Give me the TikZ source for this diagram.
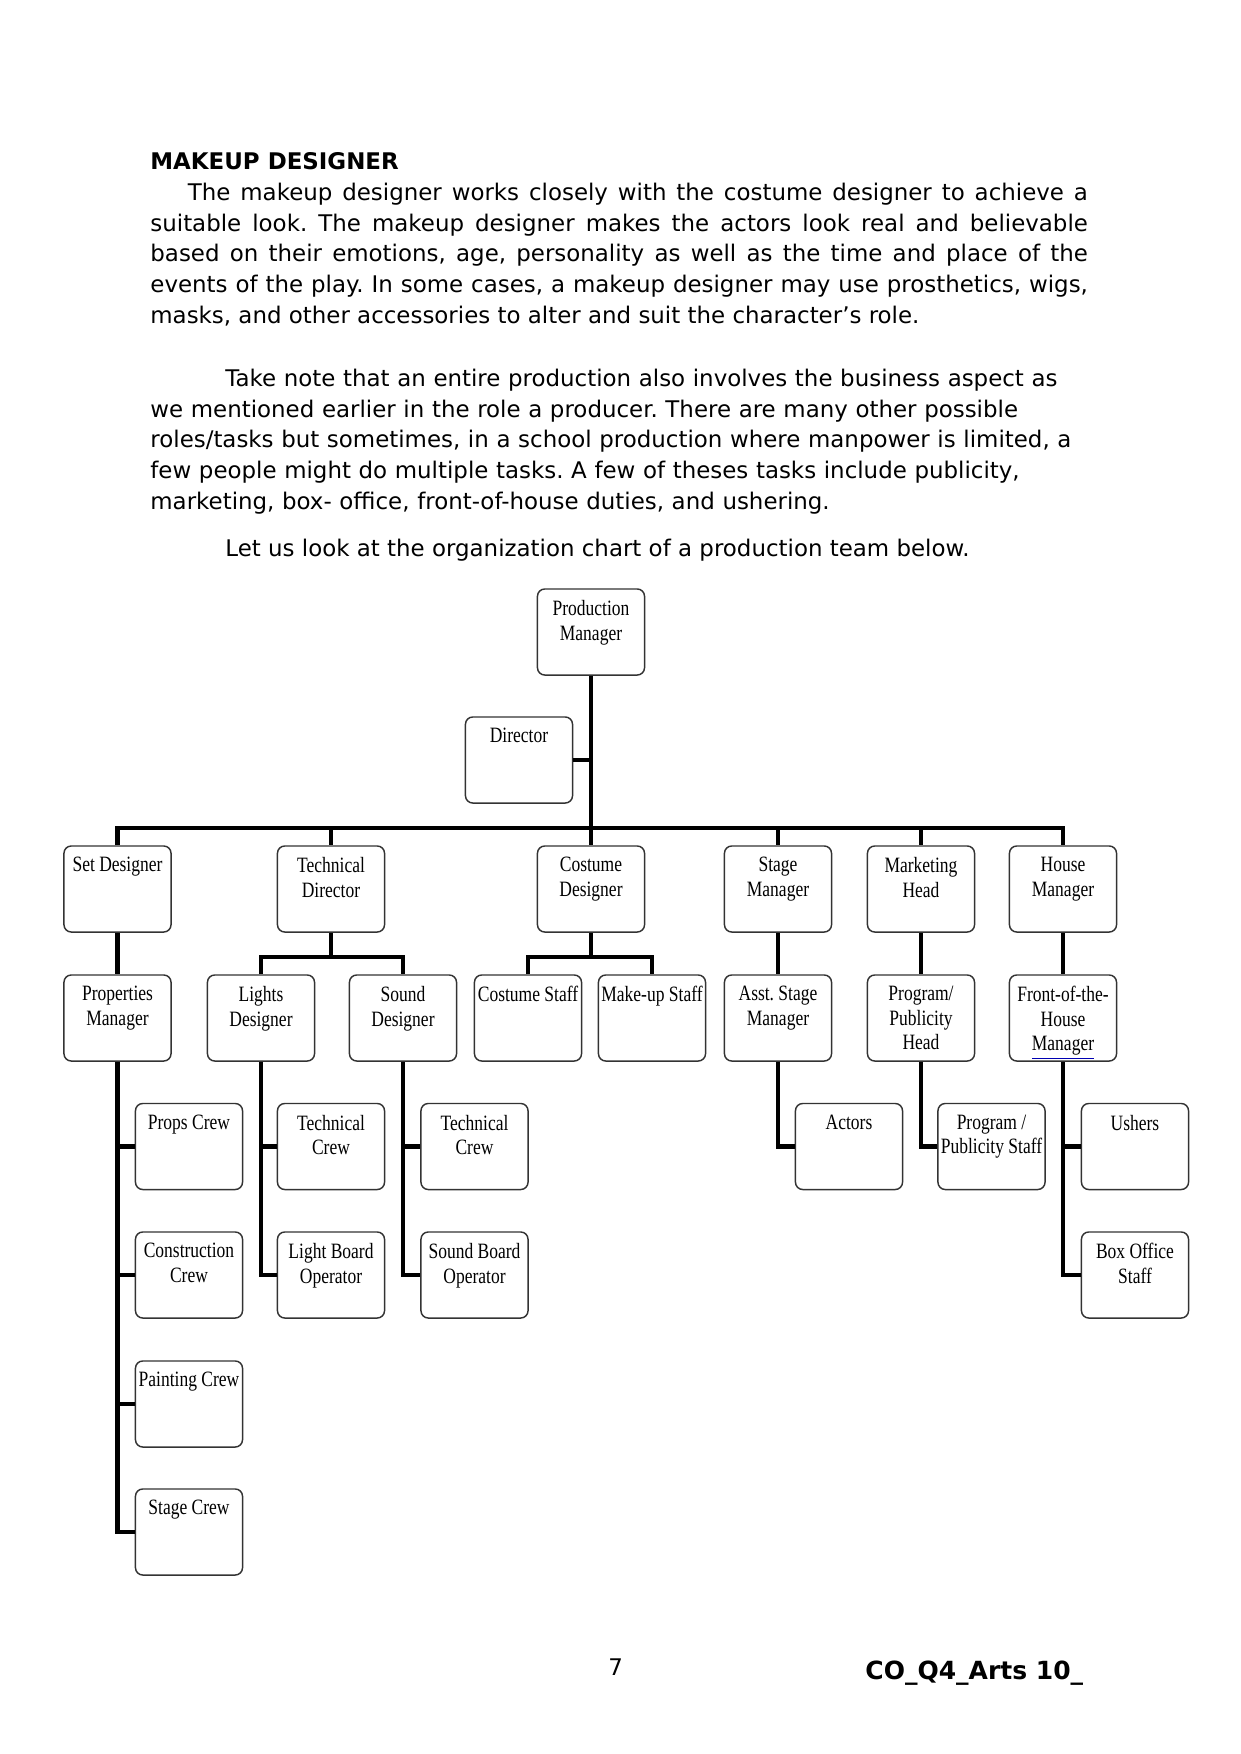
\documentclass[tikz,border=0pt]{standalone}
\usepackage{fontspec}
\usepackage{tikz}
\usetikzlibrary{positioning,calc}
\newfontfamily\bodyfont{DejaVu Sans}
\newfontfamily\chartfont[FakeStretch=0.8]{Liberation Serif}
\newcommand\mgrline[1]{{\color{blue!70!black}\underline{\color{black}#1}}}
\frenchspacing

\begin{document}
\begin{tikzpicture}[x=0.48pt,y=-0.48pt,
  role/.style={draw=black!80, line width=0.7pt, rounded corners=3.5pt, fill=white,
    minimum width=51.4pt, minimum height=41.3pt, inner sep=0pt,
    label={[rolelabel]north:#1}},
  rolelabel/.style={anchor=north, inner xsep=1pt, inner ysep=5.6pt, align=center,
    font=\chartfont\fontsize{10.5}{11.8}\selectfont},
  wire/.style={line width=2.2pt, line join=miter},
  bodytext/.style={anchor=base west, inner sep=0pt, font=\bodyfont\fontsize{11}{14.7}\selectfont}]
  \useasboundingbox (0,0) rectangle (1241,1754);

  % page text
  \node[bodytext, font=\bodyfont\bfseries\fontsize{11}{14.7}\selectfont] (head) at (150,169) {MAKEUP DESIGNER};
  \node[bodytext, text width=450pt, align=justify] (para1) at (150,200.5)
    {\hspace*{18pt}The makeup designer works closely with the costume designer to achieve a\linebreak
     suitable look. The makeup designer makes the actors look real and believable\linebreak
     based on their emotions, age, personality as well as the time and place of the\linebreak
     events of the play. In some cases, a makeup designer may use prosthetics, wigs,\linebreak
     masks, and other accessories to alter and suit the character’s role.};
  \node[bodytext, text width=470pt, align=left] (para2) at (150,386.5)
    {\hspace*{36pt}Take note that an entire production also involves the business aspect as\\
     we mentioned earlier in the role a producer. There are many other possible\\
     roles/tasks but sometimes, in a school production where manpower is limited, a\\
     few people might do multiple tasks. A few of theses tasks include publicity,\\
     marketing, box- office, front-of-house duties, and ushering.};
  \node[bodytext] (intro) at (225,556) {Let us look at the organization chart of a production team below.};

  % boxes
  \foreach \n/\x/\y/\lab in {
    pm/591/632/{Production\\Manager},
    dir/519/760/{Director},
    setd/117.5/889/{Set Designer},
    techd/331/889/{Technical\\Director},
    cosd/591/889/{Costume\\Designer},
    stagem/778/889/{Stage\\Manager},
    mkth/921/889/{Marketing\\Head},
    housem/1063/889/{House\\Manager},
    propm/117.5/1018/{Properties\\Manager},
    lightsd/261/1018/{Lights\\Designer},
    soundd/403/1018/{Sound\\Designer},
    costst/528/1018/{Costume Staff},
    makest/652/1018/{Make-up Staff},
    asstsm/778/1018/{Asst. Stage\\Manager},
    proghd/921/1018/{Program/\\Publicity\\Head},
    fohm/1063/1018/{Front-of-the-\\House\\\mgrline{Manager}},
    propcr/189/1146.5/{Props Crew},
    techcra/331/1146.5/{Technical\\Crew},
    techcrb/474.5/1146.5/{Technical\\Crew},
    actors/849/1146.5/{Actors},
    progst/991.5/1146.5/{Program /\\Publicity Staff},
    ushers/1135/1146.5/{Ushers},
    constcr/189/1275/{Construction\\Crew},
    lbop/331/1275/{Light Board\\Operator},
    sbop/474.5/1275/{Sound Board\\Operator},
    boxst/1135/1275/{Box Office\\Staff},
    paintcr/189/1404/{Painting Crew},
    stagecr/189/1532/{Stage Crew}}
    \node[role={\lab}] (\n) at (\x,\y) {};

  % connectors
  \coordinate (bus) at (591,828);
  \coordinate (techbus) at (331,957);
  \coordinate (cosbus) at (591,957);
  \draw[wire] (pm.south) -- (pm.south |- bus);
  \draw[wire] (dir.east) -- (dir.east -| pm.south);
  \draw[wire] (setd.north) -- (setd.north |- bus) -- (housem.north |- bus) -- (housem.north);
  \foreach \n in {techd,cosd,stagem,mkth}
    \draw[wire] (\n.north |- bus) -- (\n.north);
  \foreach \a/\b in {setd/propm,stagem/asstsm,mkth/proghd,housem/fohm}
    \draw[wire] (\a.south) -- (\b.north);
  \draw[wire] (techd.south) -- (techbus);
  \draw[wire] (lightsd.north) -- (lightsd.north |- techbus) -- (soundd.north |- techbus) -- (soundd.north);
  \draw[wire] (cosd.south) -- (cosbus);
  \draw[wire] (costst.north) -- (costst.north |- cosbus) -- (makest.north |- cosbus) -- (makest.north);
  % side branches
  \draw[wire] (propm.south) |- (stagecr.west);
  \foreach \n in {propcr,constcr,paintcr}
    \draw[wire] (\n.west) -- (\n.west -| propm.south);
  \draw[wire] (lightsd.south) |- (lbop.west);
  \draw[wire] (techcra.west) -- (techcra.west -| lightsd.south);
  \draw[wire] (soundd.south) |- (sbop.west);
  \draw[wire] (techcrb.west) -- (techcrb.west -| soundd.south);
  \draw[wire] (asstsm.south) |- (actors.west);
  \draw[wire] (proghd.south) |- (progst.west);
  \draw[wire] (fohm.south) |- (boxst.west);
  \draw[wire] (ushers.west) -- (ushers.west -| fohm.south);

  % footer
  \node[bodytext] (pageno) at (608,1675) {7};
  \node[bodytext, font=\bodyfont\bfseries\fontsize{12}{14.5}\selectfont] (code) at (865,1679) {CO\_Q4\_Arts 10\_};
\end{tikzpicture}
\end{document}
